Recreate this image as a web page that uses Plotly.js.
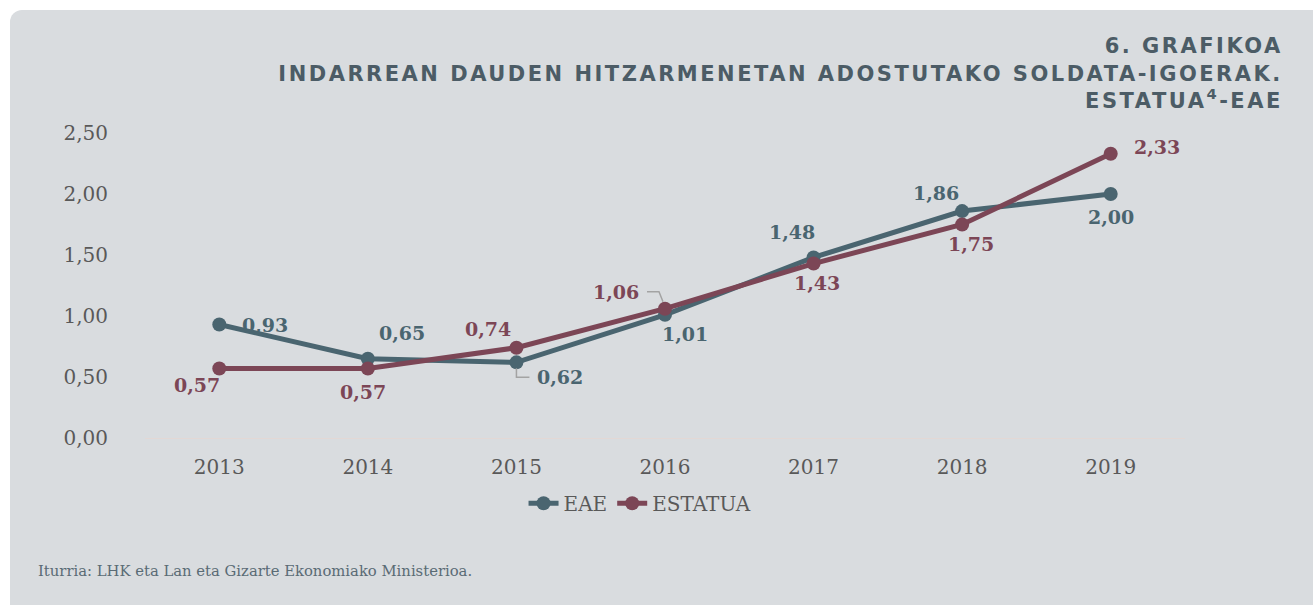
<!DOCTYPE html>
<html>
<head>
<meta charset="utf-8">
<script src="https://cdn.plot.ly/plotly-3.0.1.min.js"></script>
<style>
  html, body { margin: 0; padding: 0; background: #ffffff; width: 1313px; height: 605px; overflow: hidden; }
  #panel { position: absolute; left: 10px; top: 10px; width: 1303px; height: 595px; background: #d9dcdf; border-top-left-radius: 12px; }
  #chart { position: absolute; left: 0; top: 0; width: 1313px; height: 605px; }
</style>
</head>
<body>
<div id="panel"></div>
<div id="chart"></div>
<script>
// ---- data ----
const years = ['2013', '2014', '2015', '2016', '2017', '2018', '2019'];
const eae = [0.93, 0.65, 0.62, 1.01, 1.48, 1.86, 2.00];
const estatua = [0.57, 0.57, 0.74, 1.06, 1.43, 1.75, 2.33];
const seriesNames = ['EAE', 'ESTATUA'];
const yTicks = [0, 0.5, 1, 1.5, 2, 2.5];
const titleLines = ['6. GRAFIKOA', 'INDARREAN DAUDEN HITZARMENETAN ADOSTUTAKO SOLDATA-IGOERAK.', 'ESTATUA<sup>4</sup>-EAE'];
const sourceText = 'Iturria: LHK eta Lan eta Gizarte Ekonomiako Ministerioa.';

// ---- styles ----
const cEAE = '#4a6570';
const cEST = '#7c4656';
const serif = 'DejaVu Serif, serif';

// label offsets (pixels) for each data label
const eaeOff = [[46, 0], [34, 26], [44, -15], [20, -19], [-22, 25], [-26, 18], [0, -23]];
const estOff = [[-22, -17], [-5, -24], [-28, 19], [-49, 17], [3, -19], [9, -19], [46, 7]];

function fmt(v) { return v.toFixed(2).replace('.', ','); }

const traces = [
  { x: years, y: eae, name: seriesNames[0], type: 'scatter', mode: 'lines+markers',
    line: { color: cEAE, width: 5 }, marker: { color: cEAE, size: 14 }, hoverinfo: 'skip' },
  { x: years, y: estatua, name: seriesNames[1], type: 'scatter', mode: 'lines+markers',
    line: { color: cEST, width: 5 }, marker: { color: cEST, size: 14 }, hoverinfo: 'skip' }
];

const annotations = [];
function addLabels(vals, offs, color) {
  vals.forEach((v, i) => {
    annotations.push({
      x: i, y: v, xref: 'x', yref: 'y', text: fmt(v), showarrow: false,
      xshift: offs[i][0], yshift: offs[i][1], xanchor: 'center', yanchor: 'middle',
      font: { family: serif, size: 19, color: color, weight: 'bold' }
    });
  });
}
addLabels(eae, eaeOff, cEAE);
addLabels(estatua, estOff, cEST);

annotations.push({
  xref: 'paper', yref: 'paper', x: -0.1048, y: -0.436, xanchor: 'left', yanchor: 'middle',
  text: sourceText, showarrow: false, font: { family: serif, size: 14.8, color: '#5a6b75' }
});

// leader lines (pixel paths anchored at data points)
const shapes = [
  { type: 'path', xref: 'x', yref: 'y', xsizemode: 'pixel', ysizemode: 'pixel',
    xanchor: 2, yanchor: eae[2], path: 'M0,-6 L0,-15 L13,-15',
    line: { color: '#a3a3a3', width: 1.5 } },
  { type: 'path', xref: 'x', yref: 'y', xsizemode: 'pixel', ysizemode: 'pixel',
    xanchor: 3, yanchor: estatua[3], path: 'M-18,17 L-6,17 L-2,7',
    line: { color: '#a3a3a3', width: 1.5 } }
];

const layout = {
  width: 1313, height: 605,
  paper_bgcolor: 'rgba(0,0,0,0)', plot_bgcolor: 'rgba(0,0,0,0)',
  margin: { l: 145, r: 128, t: 133, b: 167 },
  separators: ',.',
  showlegend: true,
  title: {
    text: titleLines.join('<br>'),
    x: 0.977, xanchor: 'right', xref: 'container',
    y: 0.912, yanchor: 'top', yref: 'container',
    font: { family: 'DejaVu Sans, sans-serif', size: 21, color: '#4c5c66', weight: 'bold' }
  },
  xaxis: {
    type: 'category', range: [-0.5, 6.5], showgrid: false, zeroline: false, showline: false,
    ticks: '', ticklabelstandoff: 15, fixedrange: true,
    tickfont: { family: serif, size: 20, color: '#595959' }
  },
  yaxis: {
    range: [0, 2.5], tickvals: yTicks, tickformat: '.2f', showgrid: false,
    zeroline: true, zerolinecolor: '#e3d8d5', zerolinewidth: 1, showline: false,
    ticks: '', ticklabelstandoff: 36, fixedrange: true,
    tickfont: { family: serif, size: 20, color: '#595959' }
  },
  legend: {
    orientation: 'h', x: 0.476, xanchor: 'center', y: -0.15, yanchor: 'top',
    font: { family: serif, size: 20, color: '#595959' }, bgcolor: 'rgba(0,0,0,0)'
  },
  annotations: annotations,
  shapes: shapes
};

Plotly.newPlot('chart', traces, layout, { displayModeBar: false, staticPlot: true }).then(function () {
  // widen the title lettering to match the extended display face of the original
  document.querySelectorAll('.gtitle').forEach(function (t) {
    t.style.letterSpacing = '2.5px';
  });
});
</script>
</body>
</html>
